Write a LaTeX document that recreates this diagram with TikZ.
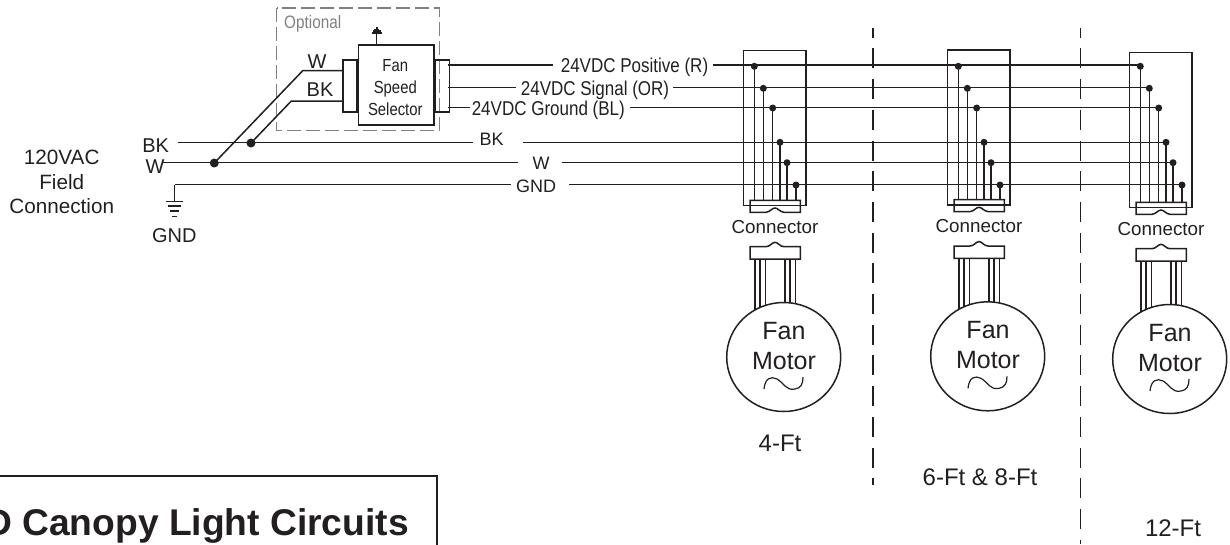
\documentclass[tikz,border=0pt]{standalone}
\usepackage{fontspec}
\setmainfont{Liberation Sans}
\newfontfamily\narrowfont[FakeStretch=0.85]{Liberation Sans}
\usetikzlibrary{shapes.geometric}
\definecolor{ink}{HTML}{231F20}
\newcommand{\fsz}[1]{\fontsize{#1}{#1}\selectfont}

\tikzset{
	wire/.style={line width=1.5pt, color=ink},
	thinwire/.style={line width=1.2pt, color=ink},
	dot/.style={circle, fill=ink, inner sep=0pt, minimum size=7pt},
	bigdot/.style={dot, minimum size=9pt},
	lbl/.style={inner sep=0pt, text=ink, text height=13pt, text depth=0pt, font=\fsz{18}},
	sidelbl/.style={lbl, text height=14.4pt, font=\fsz{20}},
	sizelbl/.style={lbl, text height=17.3pt, font=\fsz{24}},
	motorlbl/.style={lbl, text height=18pt, font=\fsz{25}},
	connlbl/.style={lbl, text height=13.5pt, font=\fsz{18.8}},
	vdc/.style={lbl, text height=14.4pt, font=\narrowfont\fsz{20}},
	selbl/.style={lbl, text height=12.6pt, font=\narrowfont\fsz{17.5}},
	divider/.style={line width=1.5pt, color=ink, dash pattern=on 20pt off 10.7pt, dash phase=10pt},
}

\begin{document}
\begin{tikzpicture}[x=1pt, y=-1pt]
		\clip (0, 0) rectangle (1230, 544);

		% optional selector
		\draw[line width=1.5pt, color=gray, dash pattern=on 14pt off 5pt] (276.7, 8) rectangle (439.3, 130.7);
		\node[lbl, text=gray, text height=13pt, font=\narrowfont\fsz{18}] (optional) at (312.7, 21.5) {Optional};
		\node[wire, draw, inner sep=0pt, minimum width=75.7pt, minimum height=80.3pt] (selector) at (396.2, 84.9) {};
		\node[selbl] (fantext) at (395.3, 65) {Fan};
		\node[selbl] (speedtext) at (395.3, 87) {Speed};
		\node[selbl] (selecttext) at (395.3, 109) {Selector};
		\node[wire, draw, inner sep=0pt, minimum width=14pt, minimum height=52pt, anchor=east] (selleft) at (selector.west |- 0, 86) {};
		\node[wire, draw, inner sep=0pt, minimum width=13.7pt, minimum height=52pt, anchor=west] (selright) at (selector.east |- 0, 86) {};
		\coordinate (antenna) at (376.7, 31);
		\draw[wire] (selector.north -| antenna) -- (antenna);
		\foreach \ty/\tw in {33/5, 31/3.8, 29.5/2.6, 28/1.2}
			\draw[thinwire] (376.7-\tw, \ty) -- (376.7+\tw, \ty);

		% feed from field wires
		\node[bigdot] (dotbk) at (251, 143) {};
		\node[bigdot] (dotw) at (214.3, 163) {};
		\coordinate (kneew) at (302.7, 70.7);
		\coordinate (kneebk) at (291.3, 101);
		\draw[wire] (selleft.west |- kneew) -- (kneew) -- (dotw.center);
		\draw[wire] (selleft.west |- kneebk) -- (kneebk) -- (dotbk.center);
		\node[sidelbl] (selw) at (317, 61) {W};
		\node[sidelbl] (selbk) at (320, 89) {BK};

		% field side
		\node[inner sep=0pt, text=ink, font=\fsz{20.7}, align=center] (field) at (61.7, 182) {120VAC\\[4.6pt]Field\\[3.6pt]Connection};
		\node[sidelbl] (fieldbk) at (155.7, 145) {BK};
		\node[sidelbl] (fieldw) at (155, 166.5) {W};
		\node[sidelbl] (gndtext) at (174.3, 235) {GND};
		\coordinate (gndin) at (174.7, 184.7);
		\coordinate (gndout) at (174.7, 201.5);
		\foreach \ty/\tw in {201.7/8.7, 206/6.5, 211/4.5, 216.5/2.5}
			\draw[thinwire] (174.7-\tw, \ty) -- (174.7+\tw, \ty);
		\draw[wire] (gndout) -- (gndin);

		% wire labels
		\node[vdc] (rtext) at (634.5, 65) {24VDC Positive (R)};
		\node[vdc] (ortext) at (595, 88) {24VDC Signal (OR)};
		\node[vdc] (bltext) at (548.3, 108) {24VDC Ground (BL)};
		\node[lbl] (bktext) at (491.7, 139) {BK};
		\node[lbl] (wtext) at (541, 162.7) {W};
		\node[lbl] (gtext) at (536, 185.5) {GND};

		% dividers
		\draw[divider] (873, 27.7) -- (873, 485);
		\draw[divider] (1080.7, 27.7) -- (1080.7, 544);

		% the three fans
		\foreach \n/\dx/\dy in {a/0/0, b/204/-0.7, c/386/2} {
			\begin{scope}[shift={(\dx, \dy)}]
				\draw[wire] (743.7, 50.7) rectangle (806, 205.7);
				\draw[wire] (750, 200.3) -- (800.3, 200.3) -- (800.3, 212.3) -- (784, 212.3)
					.. controls (780, 212) and (778, 208) .. (775, 208)
					.. controls (772, 208) and (770, 212) .. (766, 212.3) -- (750, 212.3) -- cycle;
				\coordinate (plugtop\n) at (775, 200.3);
				\node[connlbl] (conn\n) at (775, 226.7) {Connector};
				\foreach \tx in {755, 760, 765.3, 785, 790, 795.7}
					\draw[thinwire] (\tx, 259) -- (\tx, 320);
				\draw[wire, fill=white] (750, 246.7) -- (766, 246.7)
					.. controls (770, 246.7) and (772, 242.3) .. (775, 242.3)
					.. controls (778, 242.3) and (780, 246.7) .. (784, 246.7)
					-- (800.3, 246.7) -- (800.3, 259) -- (750, 259) -- cycle;
				\node[ellipse, wire, draw, fill=white, inner sep=0pt, minimum width=114pt, minimum height=109pt] (motor\n) at (783.7, 357) {};
				\node[motorlbl] (fan\n) at (784, 330.5) {Fan};
				\node[motorlbl] (mot\n) at (784, 360) {Motor};
				\draw[thinwire] (764, 389) .. controls (765, 378) and (771, 376) .. (777, 379)
					.. controls (784, 383) and (786, 391) .. (795, 389) .. controls (801, 388) and (803, 384) .. (803, 377);
			\end{scope}
			% tap points
			\foreach \i/\tx/\ty in {1/754.3/66.3, 2/763.3/88.3, 3/772.7/108, 4/780/142.3, 5/787/162.7, 6/796/185} {
				\node[dot] (tap\n\i) at (\dx+\tx, \ty) {};
				\draw[wire] (tap\n\i.center) -- (tap\n\i.center |- plugtop\n);
			}
		}

		% wire runs
		\coordinate (bkfrom) at (177.7, 142.3);
		\coordinate (bkstop) at (473, 142.3);
		\coordinate (bkgo) at (523, 142.3);
		\coordinate (wfrom) at (163, 162.7);
		\coordinate (wstop) at (518, 162.7);
		\coordinate (wgo) at (561.7, 162.7);
		\coordinate (gstop) at (511, 184.7);
		\coordinate (ggo) at (569.3, 184.7);
		\coordinate (rin) at (447.7, 65);
		\coordinate (rstop) at (553, 65);
		\coordinate (rgo) at (713.3, 65);
		\coordinate (orin) at (447.7, 87.7);
		\coordinate (orstop) at (516, 87.7);
		\coordinate (orgo) at (673, 87.7);
		\coordinate (blin) at (447.7, 107.7);
		\coordinate (blstop) at (470, 107.7);
		\coordinate (blgo) at (630, 107.7);
		\draw[wire] (rin) -- (rstop);
		\draw[wire] (rgo) -- (tapc1.center |- rgo);
		\draw[wire] (orin) -- (orstop);
		\draw[wire] (orgo) -- (tapc2.center |- orgo);
		\draw[wire] (blin) -- (blstop);
		\draw[wire] (blgo) -- (tapc3.center |- blgo);
		\draw[wire] (bkfrom) -- (bkstop);
		\draw[wire] (bkgo) -- (tapc4.center |- bkgo);
		\draw[wire] (wfrom) -- (wstop);
		\draw[wire] (wgo) -- (tapc5.center |- wgo);
		\draw[wire] (gndin) -- (gstop);
		\draw[wire] (ggo) -- (tapc6.center |- ggo);

		% footers
		\node[sizelbl] (size4) at (780, 443) {4-Ft};
		\node[sizelbl] (size8) at (980, 477) {6-Ft \& 8-Ft};
		\node[sizelbl] (size12) at (1173, 528) {12-Ft};

		% title corner
		\coordinate (titleleft) at (-5, 476);
		\coordinate (titlecorner) at (437, 476);
		\coordinate (titlefoot) at (437, 550);
		\draw[line width=2.6pt, color=ink] (titleleft) -- (titlecorner) -- (titlefoot);
		\node[inner sep=0pt, anchor=base east, text=ink, font=\bfseries\fsz{37.2}] (title) at (409, 535) {D Canopy Light Circuits};
	\end{tikzpicture}
\end{document}
